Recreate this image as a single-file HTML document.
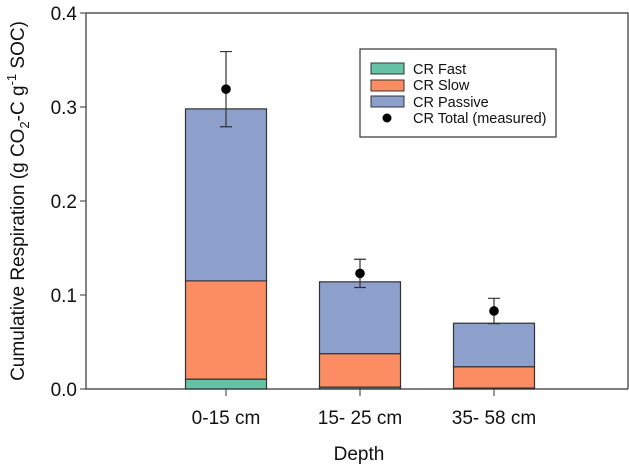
<!DOCTYPE html>
<html><head><meta charset="utf-8"><style>
body{margin:0;background:#fff}
svg text{font-family:"Liberation Sans",Arial,sans-serif;fill:#111}
</style></head><body>
<svg id="chart" width="629" height="465" xmlns="http://www.w3.org/2000/svg">
<g id="plot"></g>
</svg>
<script>
const categories=["0-15 cm","15- 25 cm","35- 58 cm"];
const fastVals=[0.0105,0.002,0.001];
const slowVals=[0.1045,0.0356,0.0227];
const passiveVals=[0.183,0.0764,0.0463];
const totalVals=[0.319,0.123,0.083];
const errVals=[0.040,0.015,0.0135];
const yTicks=[0,0.1,0.2,0.3,0.4];
const yTickLabels=["0.0","0.1","0.2","0.3","0.4"];
const X0=86,X1=628,Y0=389,Y1=13;
const ys=v=>Y0-(v/0.4)*(Y0-Y1);
const xc=i=>226+i*134;
const bw=81;
const NS="http://www.w3.org/2000/svg";
const g=document.getElementById('plot');
function mk(t,a,p){const e=document.createElementNS(NS,t);for(const k in a)e.setAttribute(k,a[k]);(p||g).appendChild(e);return e;}
const colors=["#66c2a5","#fc8d62","#8da0cb"];
const series=[fastVals,slowVals,passiveVals];
const names=["fast","slow","passive"];
categories.forEach((c,i)=>{
  let base=0;
  series.forEach((s,k)=>{
    const top=base+s[i];
    const r=mk('rect',{x:xc(i)-bw/2,y:ys(top),width:bw,height:ys(base)-ys(top),fill:colors[k],stroke:'#333','stroke-width':1.2});
    
    
    base=top;
  });
  const cx=xc(i),t=totalVals[i],e=errVals[i];
  const eb=mk('path',{d:`M${cx},${ys(t+e)}V${ys(t-e)}M${cx-6},${ys(t+e)}H${cx+6}M${cx-6},${ys(t-e)}H${cx+6}`,stroke:'#333','stroke-width':1.2,fill:'none'});
  
  
  const p=mk('circle',{cx:cx,cy:ys(t),r:4.8,fill:'#000'});
  
  
  mk('line',{x1:cx,x2:cx,y1:Y0,y2:Y0+7,stroke:'#333','stroke-width':1});
  const tl=mk('text',{x:cx,y:424,'text-anchor':'middle','font-size':19});
  tl.textContent=c;
  
  
});
const ax=mk('path',{d:`M${X0},${Y1}V${Y0}H${X1}`,stroke:'#333','stroke-width':1.2,fill:'none'});


mk('path',{d:`M${X0},${Y1}H${X1}V${Y0}`,stroke:'#333','stroke-width':1.2,fill:'none'});
yTicks.forEach((v,i)=>{
  mk('line',{x1:X0-6,x2:X0,y1:ys(v),y2:ys(v),stroke:'#333','stroke-width':1});
  const t=mk('text',{x:77,y:ys(v)+7,'text-anchor':'end','font-size':19});
  t.textContent=yTickLabels[i];
  
  
});
</script>
<svg style="position:absolute;left:0;top:0" width="629" height="465" xmlns="http://www.w3.org/2000/svg">
<text x="359" y="460" text-anchor="middle" font-size="19">Depth</text>
<text transform="translate(24,201) rotate(-90)" text-anchor="middle" font-size="19">Cumulative Respiration (g CO<tspan font-size="13" dy="5">2</tspan><tspan dy="-5">-C g</tspan><tspan font-size="13" dy="-8">-1</tspan><tspan dy="8"> SOC)</tspan></text>
<g>
<rect x="360" y="49" width="196" height="88" fill="#fff" stroke="#333" stroke-width="1.2"/>
<rect x="371" y="63" width="33" height="11" fill="#66c2a5" stroke="#333"/>
<rect x="371" y="80" width="33" height="11" fill="#fc8d62" stroke="#333"/>
<rect x="371" y="96" width="33" height="11" fill="#8da0cb" stroke="#333"/>
<circle cx="387" cy="118" r="4.5" fill="#000"/>
<text x="413" y="74" font-size="14.5">CR Fast</text>
<text x="413" y="90" font-size="14.5">CR Slow</text>
<text x="413" y="107" font-size="14.5">CR Passive</text>
<text x="413" y="123" font-size="14.5">CR Total (measured)</text>
</g>
</svg>
</body></html>
